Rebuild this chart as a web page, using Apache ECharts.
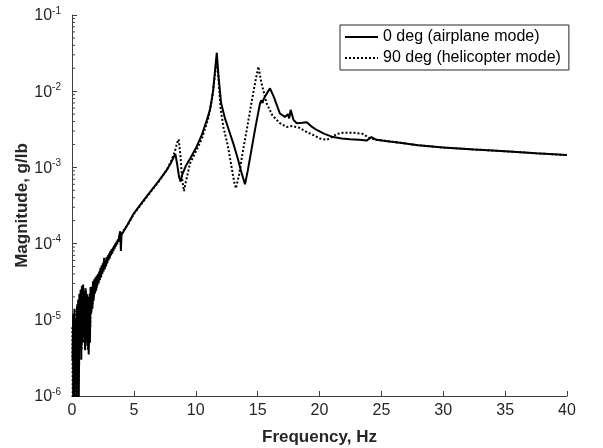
<!DOCTYPE html>
<html><head><meta charset="utf-8">
<script src="https://cdn.jsdelivr.net/npm/echarts@6/dist/echarts.min.js"></script>
<style>html,body{margin:0;padding:0;background:#fff}#c{width:603px;height:448px}</style>
</head><body><div id="c"></div>
<script>
// 0 deg (airplane mode)
const freq0 = [0.05,0.10,0.15,0.20,0.25,0.30,0.35,0.40,0.45,0.50,0.55,0.60,0.65,0.70,0.75,0.80,0.85,0.90,0.95,1.00,
1.05,1.10,1.15,1.20,1.25,1.30,1.35,1.40,1.45,1.50,1.55,1.60,1.65,1.70,1.75,1.80,1.85,1.90,1.95,2.00,
2.05,2.10,2.15,2.20,2.25,2.30,2.35,2.40,2.45,2.50,2.55,2.60,2.65,2.70,2.75,2.80,2.85,2.90,2.95,3.00,
3.05,3.10,3.15,3.20,3.25,3.30,3.35,3.40,3.45,3.50,3.55,3.60,3.65,3.70,3.75,3.80,3.85,3.90,3.95,4.00,
4.5,5.0,6.0,7.0,7.65,8.0,8.2,8.35,8.5,8.65,8.78,8.9,9.2,9.6,10.07,10.5,10.9,11.15,11.4,11.55,11.7,11.85,12.05,12.36,12.7,13.03,13.4,13.7,13.98,14.2,14.5,14.8,15.19,15.3,15.4,15.46,15.6,16.0,16.3,16.8,17.2,17.45,17.55,17.67,17.9,18.16,18.6,18.97,19.4,19.77,20.4,21.1,21.8,22.46,23.2,23.8,24.2,24.6,25.5,26.5,28,30,32.5,35,37.5,40];
const mag0 = [3e-6,1.2e-5,5e-7,1.4e-5,2e-6,9e-6,6e-7,1.5e-5,1.5e-6,1.8e-5,8e-7,2.2e-5,4e-6,2.5e-5,3e-6,2.8e-5,5e-6,2.9e-5,6e-6,2.4e-5,
4e-6,2.6e-5,7e-6,2.2e-5,4.5e-6,2.0e-5,3.5e-6,1.8e-5,5e-6,2.7e-5,1.2e-5,2.5e-5,1.4e-5,3.2e-5,1.8e-5,3.4e-5,2.2e-5,3.6e-5,2.4e-5,3.8e-5,
2.8e-5,4.0e-5,3.0e-5,4.3e-5,3.3e-5,4.8e-5,3.6e-5,5.2e-5,4.0e-5,5.6e-5,4.3e-5,6.5e-5,4.6e-5,6.0e-5,5.0e-5,6.6e-5,5.5e-5,7.0e-5,6.0e-5,7.4e-5,
6.4e-5,8.0e-5,7.0e-5,8.4e-5,7.4e-5,8.8e-5,8.0e-5,9.4e-5,8.6e-5,1.0e-4,9.2e-5,1.06e-4,9.8e-5,1.12e-4,1.05e-4,1.2e-4,1.35e-4,1.45e-4,8.0e-5,1.3e-4,
1.8e-4,2.5e-4,4.1e-4,6.6e-4,9.2e-4,1.15e-3,1.35e-3,1.5e-3,1.1e-3,7.5e-4,6.5e-4,8e-4,1.05e-3,1.35e-3,1.87e-3,2.7e-3,4.2e-3,5.7e-3,1.0e-2,1.8e-2,3.2e-2,1.5e-2,7e-3,4.4e-3,3.0e-3,2.07e-3,1.3e-3,8.5e-4,6.0e-4,9e-4,1.7e-3,3.2e-3,6.9e-3,7.6e-3,7.0e-3,7.7e-3,8.5e-3,1.09e-2,8.5e-3,5.1e-3,4.6e-3,5.0e-3,4.4e-3,5.7e-3,4.2e-3,3.8e-3,3.85e-3,3.9e-3,3.4e-3,3.1e-3,2.75e-3,2.5e-3,2.4e-3,2.34e-3,2.3e-3,2.25e-3,2.5e-3,2.3e-3,2.2e-3,2.1e-3,1.95e-3,1.82e-3,1.72e-3,1.63e-3,1.53e-3,1.45e-3];

// 90 deg (helicopter mode)
const freq90 = [0.025,0.075,0.125,0.175,0.225,0.275,0.325,0.375,0.425,0.475,0.525,0.575,0.625,0.675,0.725,0.775,0.825,0.875,0.925,0.975,
1.025,1.075,1.125,1.175,1.225,1.275,1.325,1.375,1.425,1.475,1.525,1.575,1.625,1.675,1.725,1.775,1.825,1.875,1.925,1.975,
2.1,2.3,2.5,2.7,2.9,3.1,3.3,3.5,3.7,3.9,
4.5,5.0,6.0,7.0,7.65,8.0,8.3,8.5,8.62,8.75,8.9,9.05,9.2,9.54,10.0,10.5,11.0,11.3,11.5,11.68,11.85,12.0,12.23,12.6,12.9,13.1,13.25,13.5,13.8,14.12,14.5,14.8,15.06,15.3,15.73,16.2,16.8,17.35,17.8,18.4,19.0,19.5,20.0,20.6,21.0,21.4,21.9,22.7,23.5,24.1,24.6,25.5,26.5,28,30,32.5,35,37.5,40];
const mag90 = [8e-6,4e-7,1.1e-5,1.2e-6,1.3e-5,5e-7,1.0e-5,2e-6,1.6e-5,7e-7,1.9e-5,2.5e-6,2.1e-5,5e-6,2.4e-5,4e-6,2.7e-5,6e-6,2.6e-5,5e-6,
2.3e-5,6e-6,2.4e-5,5e-6,2.1e-5,4e-6,1.9e-5,4.5e-6,2.2e-5,8e-6,2.6e-5,1.3e-5,2.8e-5,1.6e-5,3.0e-5,2.0e-5,3.3e-5,2.3e-5,3.5e-5,2.6e-5,
3.6e-5,4.4e-5,5.0e-5,5.8e-5,6.6e-5,7.6e-5,8.6e-5,9.6e-5,1.1e-4,1.3e-4,
1.75e-4,2.45e-4,4.0e-4,6.5e-4,9.2e-4,1.2e-3,1.6e-3,2.1e-3,2.34e-3,1.5e-3,7e-4,4.9e-4,6.5e-4,1.13e-3,1.6e-3,2.4e-3,4.3e-3,7.5e-3,1.4e-2,2.6e-2,1.4e-2,6e-3,3.4e-3,1.9e-3,1.0e-3,6.5e-4,5.3e-4,8e-4,1.6e-3,3.1e-3,7e-3,1.3e-2,2.1e-2,1.3e-2,6.9e-3,4.8e-3,3.8e-3,3.4e-3,3.5e-3,3.3e-3,2.9e-3,2.66e-3,2.4e-3,2.3e-3,2.5e-3,2.75e-3,2.85e-3,2.85e-3,2.75e-3,2.4e-3,2.3e-3,2.2e-3,2.1e-3,1.95e-3,1.82e-3,1.72e-3,1.63e-3,1.53e-3,1.45e-3];

const xTicks = [0,5,10,15,20,25,30,35,40];
const yMinorTicks = [];
[-6,-5,-4,-3,-2].forEach(e => { for (let k = 2; k <= 9; k++) yMinorTicks.push(k * Math.pow(10, e)); });

const axisColor = '#404040';
const textColor = '#262626';
const font = 'Liberation Sans, Arial, Helvetica, sans-serif';

const chart = echarts.init(document.getElementById('c'), null, {renderer: 'canvas'});
chart.setOption({
  animation: false,
  backgroundColor: '#fff',
  textStyle: {fontFamily: font},
  grid: {left: 72, right: 36, top: 15, bottom: 52, containLabel: false, outerBoundsMode: 'none'},
  legend: {
    orient: 'vertical', left: 340, top: 25,
    borderColor: '#262626', borderWidth: 1, padding: [4, 8, 4, 4],
    itemGap: 5, itemWidth: 33, itemHeight: 14,
    itemStyle: {color: 'transparent', borderWidth: 0, opacity: 0},
    textStyle: {fontSize: 16, color: '#000', fontFamily: font},
    data: ['0 deg (airplane mode)', '90 deg (helicopter mode)']
  },
  xAxis: {
    type: 'value', min: 0, max: 40, interval: 5,
    name: 'Frequency, Hz', nameLocation: 'middle', nameGap: 33, nameMoveOverlap: false,
    nameTextStyle: {fontSize: 17, fontWeight: 'bold', color: textColor, fontFamily: font},
    axisLine: {show: true, onZero: false, lineStyle: {color: axisColor, width: 1}},
    axisTick: {show: true, inside: true, length: 5, lineStyle: {color: axisColor}},
    axisLabel: {fontSize: 16, color: textColor, margin: 7, fontFamily: font},
    splitLine: {show: false}
  },
  yAxis: {
    type: 'log', logBase: 10, min: 1e-6, max: 1e-1,
    name: 'Magnitude, g/lb', nameLocation: 'middle', nameGap: 41, nameMoveOverlap: false,
    nameTextStyle: {fontSize: 17, fontWeight: 'bold', color: textColor, fontFamily: font},
    axisLine: {show: true, lineStyle: {color: axisColor, width: 1}},
    axisTick: {show: true, inside: true, length: 5, lineStyle: {color: axisColor}},
    axisLabel: {
      margin: 11, color: textColor,
      formatter: v => '{b|10}{s|' + Math.round(Math.log10(v)) + '}',
      rich: {
        b: {fontSize: 16, color: textColor, fontFamily: font, verticalAlign: 'bottom', lineHeight: 18},
        s: {fontSize: 10, color: textColor, fontFamily: font, verticalAlign: 'top', lineHeight: 12, padding: [0, 0, 8, 0]}
      }
    },
    splitLine: {show: false}
  },
  series: [
    {
      name: '0 deg (airplane mode)', type: 'line', showSymbol: false, symbol: 'none',
      data: freq0.map((f, i) => [f, mag0[i]]),
      lineStyle: {color: '#000', width: 2},
      itemStyle: {color: '#000'}, clip: true, z: 3
    },
    {
      name: '90 deg (helicopter mode)', type: 'line', showSymbol: false, symbol: 'none',
      data: freq90.map((f, i) => [f, mag90[i]]),
      lineStyle: {color: '#000', width: 2, type: [2, 2]},
      itemStyle: {color: '#000'}, clip: true, z: 2
    },
    {
      type: 'custom', silent: true, clip: false,
      data: yMinorTicks.map(v => [0, v]),
      renderItem: (params, api) => {
        const p = api.coord([0, api.value(1)]);
        return {type: 'line', shape: {x1: p[0], y1: p[1], x2: p[0] + 3, y2: p[1]},
          style: {stroke: axisColor, lineWidth: 1}};
      },
      z: 1
    }
  ]
});
</script></body></html>
